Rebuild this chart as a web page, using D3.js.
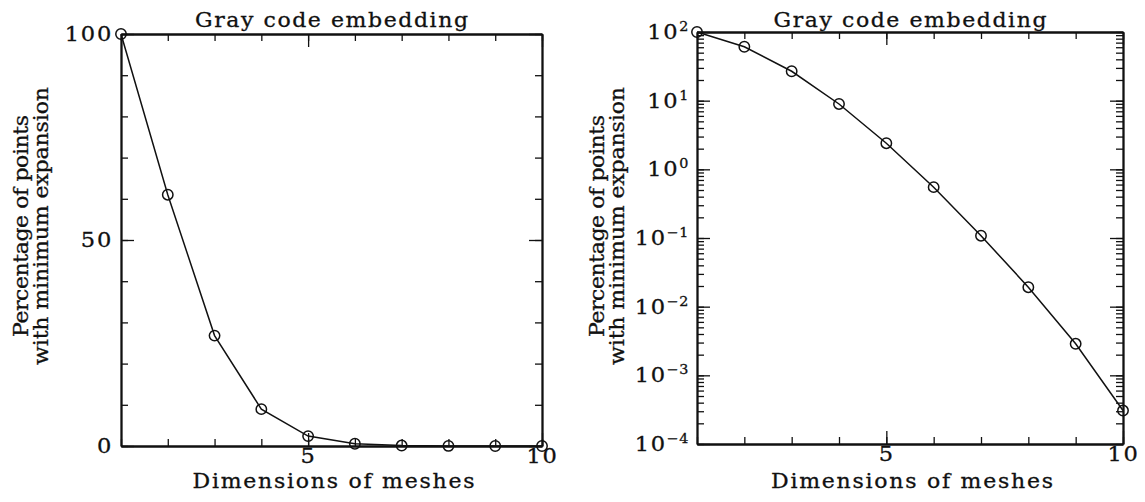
<!DOCTYPE html>
<html><head><meta charset="utf-8">
<script src="https://cdn.jsdelivr.net/npm/d3@7"></script>
<style>
body{margin:0;background:#fff}
svg text{font-family:"DejaVu Serif",serif;fill:#111;stroke:#111;stroke-width:0.3px}
</style></head><body>
<svg id="chart" width="1145" height="502"></svg>
<script>
// values (same series in both panels)
const dims=[1,2,3,4,5,6,7,8,9,10];
const pct=[100,61,26.8,8.95,2.4,0.55,0.108,0.0192,0.00288,0.000307];
const xMajor=[5,10];
const linMajor=[0,50,100];
const linMinor=[0,10,20,30,40,50,60,70,80,90,100];
const logDomain=[1e-4,1e2];
const title="Gray code embedding";
const xLabel="Dimensions of meshes";
const yLabel=["Percentage of points","with minimum expansion"];

const svg=d3.select("#chart");
const MAJ=13,MIN=7,WIDE=1.1;

function frameAxis(g,axis,tr){
 const a=g.append("g").attr("transform",tr).call(axis);
 a.select(".domain").attr("stroke","#111").attr("stroke-width",1.8);
 a.selectAll(".tick line").attr("stroke","#111").attr("stroke-width",1.3);
 a.selectAll("text").attr("font-size",20.5).attr("letter-spacing",1.6)
  .attr("font-family","DejaVu Serif").attr("fill","#111");
 return a;
}

// wide-faced label: slight horizontal stretch, rest made up with spacing
function label(g,x,y,rot,txt,len){
 g.append("g").attr("transform",`translate(${x},${y}) rotate(${rot}) scale(${WIDE},1)`)
  .append("text").attr("text-anchor","middle").attr("font-size",20)
  .attr("textLength",len/WIDE).attr("lengthAdjust","spacing").text(txt);
}

function panel(p){
 const g=svg.append("g");
 const x=d3.scaleLinear().domain([1,10]).range([p.x0,p.x1]);
 const y=p.y;
 const [yb,yt]=y.range();
 const none=()=>"";

 // minor ticks on all four sides, pointing inwards
 frameAxis(g,d3.axisBottom(x).tickValues(dims).tickSize(-MIN).tickSizeOuter(0).tickFormat(none),`translate(0,${yb})`);
 frameAxis(g,d3.axisTop(x).tickValues(dims).tickSize(-MIN).tickSizeOuter(0).tickFormat(none),`translate(0,${yt})`);
 frameAxis(g,d3.axisLeft(y).tickValues(p.minor).tickSize(-MIN).tickSizeOuter(0).tickFormat(none),`translate(${p.x0},0)`);
 frameAxis(g,d3.axisRight(y).tickValues(p.minor).tickSize(-MIN).tickSizeOuter(0).tickFormat(none),`translate(${p.x1},0)`);

 // major ticks
 const bottom=frameAxis(g,d3.axisBottom(x).tickValues(xMajor).tickSize(-MAJ).tickSizeOuter(0).tickPadding(2),`translate(0,${yb})`);
 bottom.selectAll(".tick text").attr("transform",`scale(${WIDE},1)`);
 frameAxis(g,d3.axisTop(x).tickValues(xMajor).tickSize(-MAJ).tickSizeOuter(0).tickFormat(none),`translate(0,${yt})`);
 const left=frameAxis(g,d3.axisLeft(y).tickValues(p.major).tickSize(-MAJ).tickSizeOuter(0).tickPadding(9)
  .tickFormat(p.log?none:d3.format("d")),`translate(${p.x0},0)`);
 left.selectAll(".tick text").attr("x",0).attr("transform",`translate(-8,0) scale(${WIDE},1)`);
 frameAxis(g,d3.axisRight(y).tickValues(p.major).tickSize(-MAJ).tickSizeOuter(0).tickFormat(none),`translate(${p.x1},0)`);

 if(p.log){
  left.selectAll(".tick text").each(function(d){
   const t=d3.select(this);
   const e=Math.round(Math.log10(d));
   t.append("tspan").text("10");
   t.append("tspan").attr("dy",-8).attr("font-size",13).attr("letter-spacing",0.5)
    .text(e<0?"\u2212"+(-e):String(e));
  });
 }

 // series
 const pts=d3.zip(dims,pct);
 g.append("path").datum(pts)
  .attr("fill","none").attr("stroke","#111").attr("stroke-width",1.5)
  .attr("d",d3.line().x(d=>x(d[0])).y(d=>y(d[1])));
 g.selectAll("circle").data(pts).enter().append("circle")
  .attr("cx",d=>x(d[0])).attr("cy",d=>y(d[1])).attr("r",5.2)
  .attr("fill","none").attr("stroke","#111").attr("stroke-width",1.5);

 // titles
 const cx=(p.x0+p.x1)/2;
 label(g,cx,27,0,title,273);
 label(g,cx+2,488,0,xLabel,282);
 const lens=[222,278];
 yLabel.forEach((s,i)=>label(g,p.x0-93+i*20,226,-90,s,lens[i]));
}

panel({x0:121,x1:542,y:d3.scaleLinear().domain([0,100]).range([446,34]),
 major:linMajor,minor:linMinor,log:false});

const ylog=d3.scaleLog().domain(logDomain).range([444,32]);
panel({x0:697,x1:1123,y:ylog,
 major:ylog.ticks().filter(d=>Number.isInteger(Math.round(Math.log10(d)*1e6)/1e6)),
 minor:ylog.ticks(),log:true});
</script>
</body></html>
